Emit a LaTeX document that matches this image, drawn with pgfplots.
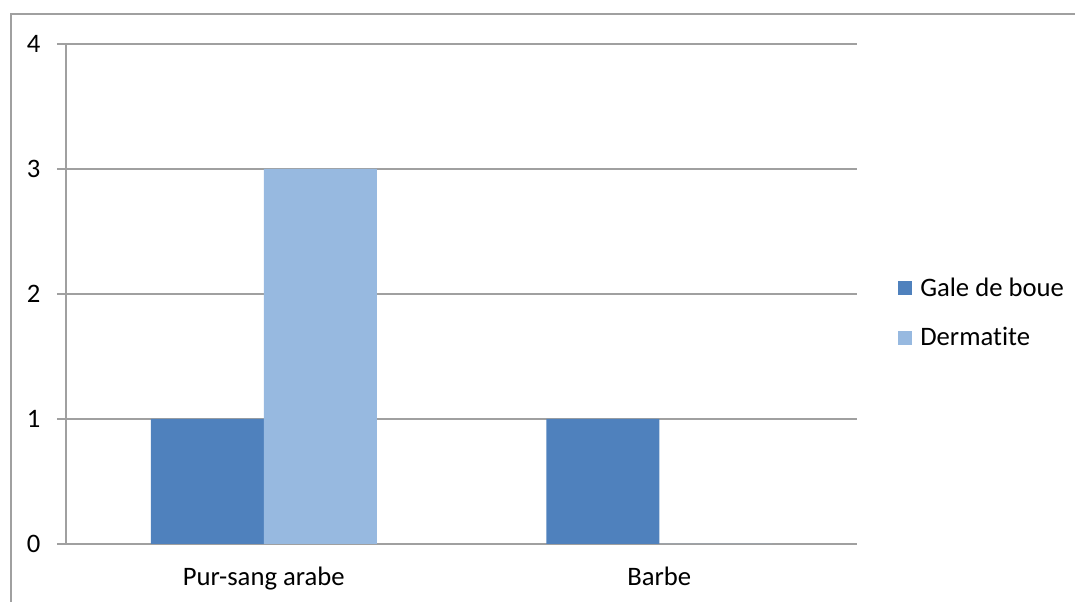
\documentclass[border=0pt]{standalone}
\usepackage{fontspec}
\setmainfont[Ligatures=NoCommon]{Carlito}
\usepackage{pgfplots}
\pgfplotsset{compat=1.18}
\definecolor{gale}{HTML}{4F81BD}
\definecolor{derm}{HTML}{97B9E0}
\definecolor{gridc}{HTML}{A0A0A0}
\definecolor{framec}{HTML}{A0A0A0}
\begin{document}
\begin{tikzpicture}
\useasboundingbox (0,0) rectangle (806.25pt,451.5pt);
\draw[framec, line width=0.9pt] (8.25pt,0pt) -- (8.25pt,441pt) -- (806.25pt,441pt);
\begin{axis}[
  at={(49.5pt,43.5pt)}, anchor=south west,
  scale only axis, width=593.25pt, height=375pt,
  font=\fontsize{20}{24}\selectfont,
  /pgf/number format/assume math mode=true,
  xmin=-0.5, xmax=1.5, ymin=0, ymax=4,
  axis x line*=bottom, axis y line*=left,
  axis line style={gridc, line width=0.8pt},
  ytick={0,1,2,3,4},
  ymajorgrids, grid style={gridc, line width=0.8pt},
  tick align=outside,
  y tick style={gridc, line width=0.8pt},
  major tick length=6.75pt,
  yticklabel style={xshift=-9pt},
  xtick={0,1}, xticklabels={Pur-sang arabe,Barbe},
  x tick style={draw=none},
  xticklabel style={yshift=-7pt},
  extra x ticks={-0.5,0.5,1.5}, extra x tick labels={},
  extra x tick style={grid=none, tick style={draw=gridc, line width=0.8pt}, major tick length=6pt},
  ybar, bar width=84.75pt,
  legend style={draw=none, fill=none, at={(1.051,0.462)}, anchor=west,
    font=\fontsize{20}{24}\selectfont, row sep=17.5pt,
    nodes={inner xsep=6.5pt},
    inner sep=0pt},
  legend cell align=left,
  legend image code/.code={\fill[#1] (0pt,-5.25pt) rectangle (10.5pt,5.25pt);},
]
\addplot[fill=gale, draw=none, bar shift=-42.375pt] coordinates {(0,1) (1,1)};
\addplot[fill=derm, draw=none, bar shift=42.375pt] coordinates {(0,3) (1,0)};
\legend{Gale de boue, Dermatite}
\end{axis}
\end{tikzpicture}
\end{document}
